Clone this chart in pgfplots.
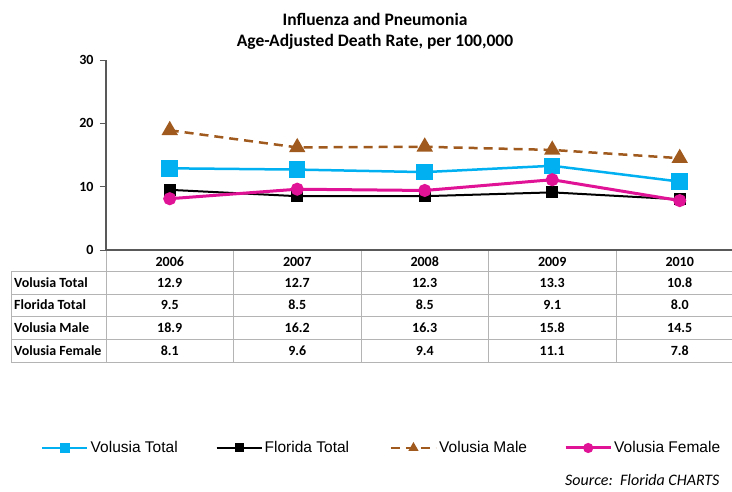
\documentclass[border=0pt]{standalone}
\usepackage{pgfplots}
\pgfplotsset{compat=1.18}
\usepackage{pgfplotstable}
\usepackage{fontspec}
\setmainfont{Carlito}
\newfontfamily\arialfont{Liberation Sans}

\definecolor{vtblue}{RGB}{0,176,240}
\definecolor{vmbrown}{RGB}{160,90,30}
\definecolor{vfmag}{RGB}{224,18,149}
\definecolor{axisgray}{RGB}{89,89,89}
\definecolor{gridgray}{RGB}{180,180,180}

% rates per 100,000 (x = 0..4 for 2006..2010)
\pgfplotstableread{
x vt ft vm vf
0 12.9 9.5 18.9 8.1
1 12.7 8.5 16.2 9.6
2 12.3 8.5 16.3 9.4
3 13.3 9.1 15.8 11.1
4 10.8 8.0 14.5 7.8
}\datatable

\begin{document}
\begin{tikzpicture}
\path[use as bounding box] (0pt,0pt) rectangle (732pt,-491pt);

\begin{axis}[
  at={(106pt,-250pt)}, anchor=south west,
  scale only axis, width=626pt, height=190pt,
  xmin=-0.5, xmax=4.41, ymin=0, ymax=30,
  axis lines=left,
  x axis line style={-, draw=axisgray, line width=2pt},
  y axis line style={-, draw=axisgray, line width=1.2pt},
  ytick={0,10,20,30},
  xtick={0,1,2,3,4},
  xticklabels={2006,2007,2008,2009,2010},
  x tick style={draw=none},
  y tick style={draw=axisgray, line width=0.8pt},
  tick align=outside, major tick length=6pt,
  /pgf/number format/assume math mode=true,
  yticklabel style={font=\fontsize{14}{14}\selectfont\bfseries, xshift=-3pt},
  xticklabel style={font=\fontsize{14}{14}\selectfont\bfseries, anchor=center, yshift=-6pt},
  clip=false,
  legend columns=4,
  legend style={at={(-0.1038,-1.042)}, anchor=west, draw=none, fill=none, inner sep=0pt,
    font=\arialfont\fontsize{15.5}{15.5}\selectfont,
    /tikz/every even column/.append style={column sep=0pt}},
  legend image code/.code={\draw[mark repeat=2,mark phase=2,#1] plot coordinates {(0pt,0pt) (22.5pt,0pt) (45pt,0pt)};},
  legend image post style={mark size=3.5pt},
]
\addplot[color=vtblue, line width=2.5pt, mark=square*, mark size=7pt, mark options={solid}]
  table[x=x, y=vt]{\datatable};
\addplot[color=black, line width=2pt, mark=square*, mark size=5pt, mark options={solid}]
  table[x=x, y=ft]{\datatable};
\addplot[color=vmbrown, line width=2.5pt, dash pattern=on 9pt off 6pt, mark=triangle*, mark size=7pt, mark options={solid}]
  table[x=x, y=vm]{\datatable};
\addplot[color=vfmag, line width=3pt, mark=*, mark size=5pt, mark options={solid}]
  table[x=x, y=vf]{\datatable};
\legend{\makebox[123pt][l]{Volusia Total},\makebox[123pt][l]{Florida Total},\makebox[123pt][l]{Volusia Male},Volusia Female}
\end{axis}

\begin{scope}[x=1pt, y=-1pt]
  % title
  \node[font=\fontsize{17.5}{17.5}\selectfont\bfseries] at (375,19) {Influenza and Pneumonia};
  \node[font=\fontsize{17.5}{17.5}\selectfont\bfseries] at (375,42) {Age-Adjusted Death Rate, per 100,000};

  % data table grid
  \draw[gridgray, line width=1pt] (11,271) -- (732,271);
  \foreach \yy in {294,316,339,362} \draw[gridgray, line width=1pt] (11,\yy) -- (732,\yy);
  \draw[gridgray, line width=1pt] (11,271) -- (11,362);
  \foreach \xx in {106,233.5,361,488.5,616} \draw[gridgray, line width=1pt] (\xx,251) -- (\xx,362);

  % row labels and values
  \foreach \col/\lab/\yy in {vt/Volusia Total/283, ft/Florida Total/305, vm/Volusia Male/328, vf/Volusia Female/351} {
    \node[anchor=west, font=\fontsize{14}{14}\selectfont\bfseries, inner sep=0pt] at (14,\yy) {\lab};
    \foreach \i in {0,...,4} {
      \pgfplotstablegetelem{\i}{\col}\of\datatable
      \node[font=\fontsize{14}{14}\selectfont\bfseries] at ({106+127.5*(\i+0.5)},\yy) {\pgfplotsretval};
    }
  }

  % source note
  \node[anchor=west, inner sep=0pt, font=\fontsize{16}{16}\selectfont\itshape] at (565,480) {Source:\ \ Florida CHARTS};
\end{scope}
\end{tikzpicture}
\end{document}
